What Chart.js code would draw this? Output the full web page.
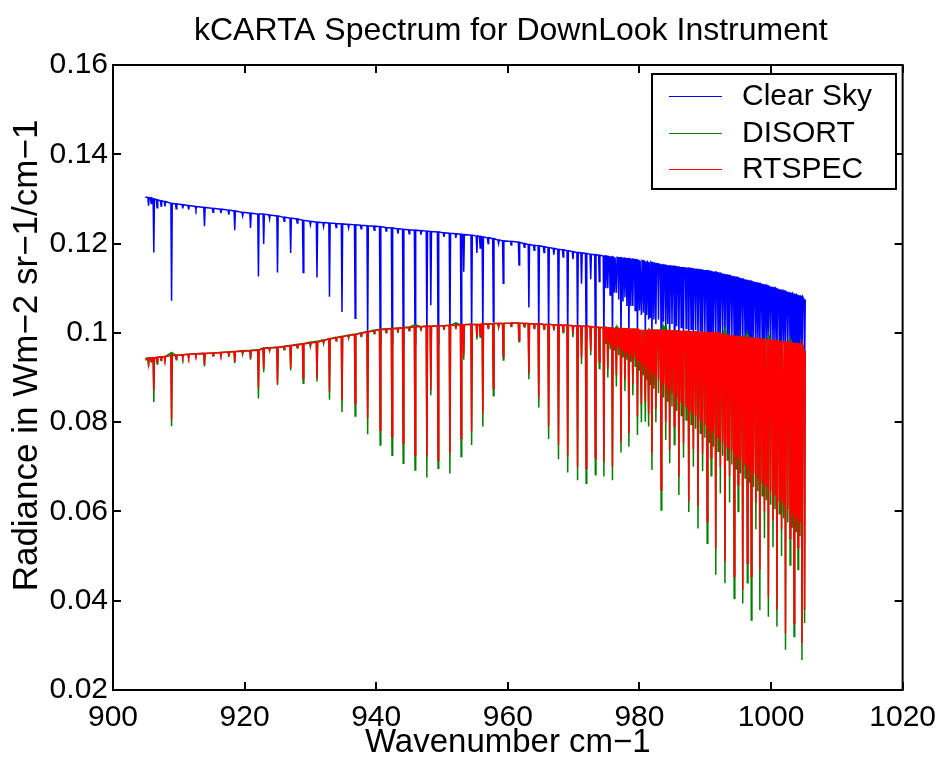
<!DOCTYPE html>
<html>
<head>
<meta charset="utf-8">
<script src="https://cdn.jsdelivr.net/npm/chart.js@4.4.0/dist/chart.umd.min.js"></script>
<style>
  html, body { margin: 0; padding: 0; background: #fff; }
  canvas { display: block; }
</style>
</head>
<body>
<canvas id="chart" width="946" height="763"></canvas>
<script>
// Absorption line centres (cm-1) left to right
const lineCentres = [
  905.0, 905.4, 905.8, 906.2, 906.7, 907.3, 907.9, 908.9, 909.6, 910.6,
  911.5, 912.6, 913.9, 915.2, 916.4, 917.6, 918.5, 919.7, 920.9, 922.1,
  922.9, 923.8, 925.0, 926.0, 927.0, 928.0, 928.9, 930.0, 931.0, 932.0,
  932.9, 933.9, 934.8, 935.8, 936.8, 937.7, 938.7, 939.7, 940.6, 941.5,
  942.4, 943.3, 944.1, 945.0, 945.9, 946.8, 947.7, 948.3, 949.4, 950.3,
  951.2, 952.1, 952.9, 953.3, 954.5, 955.3, 955.8, 956.2, 957.0, 957.8,
  958.6, 959.3, 960.5, 961.7, 962.5, 963.2, 964.0, 964.7, 965.5, 966.2,
  967.0, 967.7, 968.4, 969.1, 969.9, 970.6, 971.2, 971.9, 972.6, 973.3,
  973.9, 974.6, 974.9, 975.2, 975.55, 975.9, 976.2, 976.5, 976.85, 977.2,
  977.5, 977.8, 978.1, 978.4, 978.7, 979.0, 979.35, 979.7, 980.0, 980.3,
  980.6, 980.9, 981.15, 981.4, 981.65, 981.9, 982.2, 982.5, 982.9, 983.3,
  983.65, 984.0, 984.3, 984.6, 984.95, 985.3, 985.65, 986.0, 986.35, 986.7,
  987.1, 987.5, 987.85, 988.2, 988.55, 988.9, 989.25, 989.6, 989.95, 990.3,
  990.6, 990.9, 991.25, 991.6, 991.95, 992.3, 992.65, 993.0, 993.35, 993.7,
  994.05, 994.4, 994.7, 995.0, 995.35, 995.7, 996.05, 996.4, 996.7, 997.0,
  997.35, 997.7, 998.0, 998.3, 998.65, 999.0, 999.3, 999.6, 999.95, 1000.3,
  1000.6, 1000.9, 1001.25, 1001.6, 1001.9, 1002.2, 1002.55, 1002.9, 1003.2, 1003.5,
  1003.8, 1004.1, 1004.4, 1004.7, 1005.1
];

// Clear Sky: radiance beside each line and at its bottom
const clearTop = [
  0.1304, 0.1303, 0.1302, 0.1300, 0.1298, 0.1296, 0.1294, 0.1290, 0.1289, 0.1287,
  0.1285, 0.1283, 0.1281, 0.1279, 0.1277, 0.1275, 0.1273, 0.1270, 0.1268, 0.1266,
  0.1266, 0.1264, 0.1262, 0.1259, 0.1257, 0.1255, 0.1252, 0.1250, 0.1248, 0.1247,
  0.1246, 0.1245, 0.1244, 0.1243, 0.1242, 0.1241, 0.1240, 0.1239, 0.1238, 0.1236,
  0.1235, 0.1233, 0.1232, 0.1231, 0.1230, 0.1229, 0.1228, 0.1227, 0.1226, 0.1224,
  0.1223, 0.1222, 0.1221, 0.1220, 0.1219, 0.1217, 0.1216, 0.1215, 0.1213, 0.1211,
  0.1208, 0.1206, 0.1205, 0.1203, 0.1200, 0.1198, 0.1196, 0.1195, 0.1193, 0.1191,
  0.1189, 0.1187, 0.1186, 0.1184, 0.1182, 0.1180, 0.1179, 0.1178, 0.1176, 0.1175,
  0.1174, 0.1172, 0.1172, 0.1171, 0.1170, 0.1170, 0.1169, 0.1169, 0.1168, 0.1168,
  0.1167, 0.1167, 0.1166, 0.1166, 0.1165, 0.1165, 0.1164, 0.1163, 0.1162, 0.1162,
  0.1161, 0.1160, 0.1159, 0.1158, 0.1158, 0.1157, 0.1156, 0.1155, 0.1154, 0.1152,
  0.1152, 0.1151, 0.1150, 0.1150, 0.1149, 0.1149, 0.1148, 0.1147, 0.1146, 0.1146,
  0.1145, 0.1145, 0.1144, 0.1143, 0.1142, 0.1142, 0.1141, 0.1140, 0.1139, 0.1139,
  0.1138, 0.1137, 0.1136, 0.1136, 0.1134, 0.1133, 0.1131, 0.1130, 0.1129, 0.1128,
  0.1126, 0.1125, 0.1124, 0.1123, 0.1121, 0.1120, 0.1118, 0.1117, 0.1116, 0.1115,
  0.1113, 0.1112, 0.1111, 0.1110, 0.1108, 0.1107, 0.1106, 0.1104, 0.1102, 0.1101,
  0.1100, 0.1098, 0.1096, 0.1095, 0.1094, 0.1092, 0.1090, 0.1089, 0.1088, 0.1086,
  0.1085, 0.1083, 0.1082, 0.1081, 0.1075
];
const clearMin = [
  0.1304, 0.1285, 0.1290, 0.1180, 0.1280, 0.1284, 0.1283, 0.1072, 0.1278, 0.1279,
  0.1276, 0.1277, 0.1239, 0.1270, 0.1268, 0.1265, 0.1230, 0.1262, 0.1235, 0.1126,
  0.1199, 0.1255, 0.1135, 0.1250, 0.1179, 0.1246, 0.1135, 0.1242, 0.1124, 0.1238,
  0.1081, 0.1236, 0.1047, 0.1235, 0.1033, 0.1233, 0.0980, 0.1230, 0.0975, 0.1228,
  0.0975, 0.1222, 0.0975, 0.1222, 0.0975, 0.1220, 0.0975, 0.1062, 0.0975, 0.1215,
  0.0975, 0.1213, 0.0975, 0.1137, 0.0980, 0.1179, 0.1190, 0.0990, 0.1200, 0.1025,
  0.1200, 0.1111, 0.1197, 0.1152, 0.1192, 0.1057, 0.1185, 0.0990, 0.1180, 0.0985,
  0.1175, 0.0985, 0.1170, 0.0985, 0.1165, 0.0985, 0.1110, 0.0985, 0.1120, 0.0985,
  0.1115, 0.0985, 0.1100, 0.1100, 0.1085, 0.0985, 0.1090, 0.1090, 0.1075, 0.0985,
  0.1070, 0.1080, 0.1060, 0.0990, 0.1060, 0.1060, 0.1050, 0.0990, 0.1050, 0.1040,
  0.1045, 0.0995, 0.1040, 0.1030, 0.1035, 0.0990, 0.1030, 0.1020, 0.1030, 0.0980,
  0.1025, 0.1010, 0.1020, 0.0985, 0.1020, 0.1005, 0.1015, 0.0985, 0.1012, 0.1000,
  0.1010, 0.0980, 0.1008, 0.1000, 0.1006, 0.0980, 0.1004, 0.1000, 0.1002, 0.0975,
  0.1000, 0.0995, 0.0998, 0.0975, 0.0996, 0.0995, 0.0995, 0.0970, 0.0993, 0.0990,
  0.0992, 0.0965, 0.0990, 0.0985, 0.0990, 0.0960, 0.0988, 0.0980, 0.0987, 0.0955,
  0.0986, 0.0975, 0.0985, 0.0955, 0.0984, 0.0970, 0.0983, 0.0950, 0.0982, 0.0965,
  0.0980, 0.0945, 0.0978, 0.0960, 0.0977, 0.0940, 0.0976, 0.0955, 0.0975, 0.0935,
  0.0974, 0.0950, 0.0972, 0.0920, 0.0910
];

// DISORT
const disortTop = [
  0.0940, 0.0943, 0.0944, 0.0944, 0.0945, 0.0946, 0.0947, 0.0955, 0.0950, 0.0951,
  0.0952, 0.0953, 0.0954, 0.0955, 0.0956, 0.0957, 0.0958, 0.0960, 0.0961, 0.0962,
  0.0966, 0.0967, 0.0968, 0.0970, 0.0972, 0.0974, 0.0976, 0.0979, 0.0981, 0.0984,
  0.0987, 0.0990, 0.0992, 0.0995, 0.0997, 0.1000, 0.1003, 0.1006, 0.1008, 0.1009,
  0.1010, 0.1011, 0.1012, 0.1013, 0.1018, 0.1014, 0.1015, 0.1015, 0.1016, 0.1016,
  0.1017, 0.1022, 0.1018, 0.1018, 0.1019, 0.1019, 0.1019, 0.1020, 0.1020, 0.1021,
  0.1021, 0.1021, 0.1022, 0.1022, 0.1021, 0.1021, 0.1020, 0.1020, 0.1019, 0.1019,
  0.1018, 0.1018, 0.1017, 0.1017, 0.1016, 0.1016, 0.1015, 0.1015, 0.1014, 0.1013,
  0.1012, 0.1012, 0.1012, 0.1011, 0.1011, 0.1011, 0.1010, 0.1014, 0.1010, 0.1010,
  0.1009, 0.1009, 0.1009, 0.1009, 0.1008, 0.1008, 0.1008, 0.1008, 0.1007, 0.1007,
  0.1007, 0.1007, 0.1007, 0.1007, 0.1006, 0.1006, 0.1006, 0.1006, 0.1006, 0.1006,
  0.1014, 0.1012, 0.1005, 0.1005, 0.1004, 0.1004, 0.1004, 0.1004, 0.1003, 0.1003,
  0.1003, 0.1003, 0.1002, 0.1002, 0.1002, 0.1002, 0.1001, 0.1001, 0.1001, 0.1001,
  0.1000, 0.1000, 0.1000, 0.0999, 0.0999, 0.0998, 0.0997, 0.1005, 0.0994, 0.0993,
  0.0993, 0.0992, 0.0992, 0.0991, 0.0991, 0.0990, 0.0990, 0.0998, 0.0989, 0.0988,
  0.0988, 0.0987, 0.0987, 0.0986, 0.0986, 0.0985, 0.0985, 0.0993, 0.0984, 0.0983,
  0.0983, 0.0982, 0.0981, 0.0980, 0.0980, 0.0979, 0.0979, 0.0985, 0.0977, 0.0976,
  0.0976, 0.0975, 0.0974, 0.0973, 0.0960
];
const disortMin = [
  0.0940, 0.0925, 0.0935, 0.0845, 0.0930, 0.0938, 0.0936, 0.0791, 0.0940, 0.0944,
  0.0942, 0.0945, 0.0925, 0.0948, 0.0947, 0.0946, 0.0932, 0.0952, 0.0940, 0.0853,
  0.0912, 0.0960, 0.0883, 0.0962, 0.0916, 0.0966, 0.0887, 0.0970, 0.0891, 0.0976,
  0.0850, 0.0982, 0.0823, 0.0988, 0.0814, 0.0992, 0.0773, 0.0998, 0.0749, 0.1000,
  0.0726, 0.1000, 0.0708, 0.1005, 0.0693, 0.1004, 0.0676, 0.0860, 0.0697, 0.1006,
  0.0685, 0.1008, 0.0723, 0.0940, 0.0749, 0.0985, 0.0990, 0.0790, 0.1010, 0.0859,
  0.1012, 0.0939, 0.1014, 0.0980, 0.1013, 0.0896, 0.1010, 0.0833, 0.1008, 0.0762,
  0.1005, 0.0717, 0.1000, 0.0687, 0.0990, 0.0670, 0.0930, 0.0663, 0.0950, 0.0682,
  0.0920, 0.0678, 0.0975, 0.0900, 0.0965, 0.0670, 0.0960, 0.0880, 0.0950, 0.0732,
  0.0945, 0.0870, 0.0940, 0.0745, 0.0935, 0.0860, 0.0925, 0.0771, 0.0915, 0.0800,
  0.0905, 0.0801, 0.0895, 0.0790, 0.0885, 0.0693, 0.0875, 0.0800, 0.0865, 0.0603,
  0.0855, 0.0760, 0.0845, 0.0708, 0.0835, 0.0750, 0.0825, 0.0637, 0.0815, 0.0720,
  0.0805, 0.0599, 0.0795, 0.0700, 0.0785, 0.0562, 0.0775, 0.0690, 0.0765, 0.0529,
  0.0755, 0.0680, 0.0745, 0.0458, 0.0735, 0.0640, 0.0725, 0.0439, 0.0715, 0.0620,
  0.0705, 0.0405, 0.0695, 0.0600, 0.0685, 0.0394, 0.0675, 0.0440, 0.0665, 0.0357,
  0.0655, 0.0560, 0.0645, 0.0379, 0.0635, 0.0540, 0.0625, 0.0364, 0.0615, 0.0520,
  0.0605, 0.0342, 0.0595, 0.0500, 0.0585, 0.0290, 0.0575, 0.0480, 0.0565, 0.0320,
  0.0555, 0.0470, 0.0545, 0.0267, 0.0350
];

// RTSPEC
const rtspecTop = [
  0.0943, 0.0943, 0.0944, 0.0944, 0.0945, 0.0946, 0.0947, 0.0949, 0.0950, 0.0951,
  0.0952, 0.0953, 0.0954, 0.0955, 0.0956, 0.0957, 0.0958, 0.0959, 0.0960, 0.0961,
  0.0965, 0.0966, 0.0967, 0.0969, 0.0971, 0.0973, 0.0975, 0.0977, 0.0979, 0.0983,
  0.0986, 0.0989, 0.0991, 0.0994, 0.0996, 0.0999, 0.1002, 0.1005, 0.1007, 0.1008,
  0.1009, 0.1010, 0.1011, 0.1012, 0.1013, 0.1014, 0.1015, 0.1015, 0.1016, 0.1016,
  0.1017, 0.1017, 0.1018, 0.1018, 0.1019, 0.1019, 0.1019, 0.1020, 0.1020, 0.1021,
  0.1021, 0.1021, 0.1022, 0.1022, 0.1021, 0.1021, 0.1020, 0.1020, 0.1019, 0.1019,
  0.1018, 0.1018, 0.1017, 0.1017, 0.1016, 0.1016, 0.1015, 0.1015, 0.1014, 0.1013,
  0.1012, 0.1012, 0.1012, 0.1011, 0.1011, 0.1011, 0.1010, 0.1010, 0.1010, 0.1010,
  0.1009, 0.1009, 0.1009, 0.1009, 0.1008, 0.1008, 0.1008, 0.1008, 0.1007, 0.1007,
  0.1007, 0.1007, 0.1007, 0.1007, 0.1006, 0.1006, 0.1006, 0.1006, 0.1006, 0.1006,
  0.1005, 0.1005, 0.1005, 0.1005, 0.1004, 0.1004, 0.1004, 0.1004, 0.1003, 0.1003,
  0.1003, 0.1003, 0.1002, 0.1002, 0.1002, 0.1002, 0.1001, 0.1001, 0.1001, 0.1001,
  0.1000, 0.1000, 0.1000, 0.0999, 0.0999, 0.0998, 0.0997, 0.0995, 0.0994, 0.0993,
  0.0993, 0.0992, 0.0992, 0.0991, 0.0991, 0.0990, 0.0990, 0.0989, 0.0989, 0.0988,
  0.0988, 0.0987, 0.0987, 0.0986, 0.0986, 0.0985, 0.0985, 0.0984, 0.0984, 0.0983,
  0.0983, 0.0982, 0.0981, 0.0980, 0.0980, 0.0979, 0.0979, 0.0978, 0.0977, 0.0976,
  0.0976, 0.0975, 0.0974, 0.0973, 0.0960
];
const rtspecMin = [
  0.0943, 0.0930, 0.0938, 0.0872, 0.0935, 0.0940, 0.0940, 0.0806, 0.0943, 0.0946,
  0.0945, 0.0948, 0.0928, 0.0950, 0.0950, 0.0949, 0.0935, 0.0954, 0.0944, 0.0877,
  0.0919, 0.0961, 0.0887, 0.0964, 0.0921, 0.0968, 0.0898, 0.0971, 0.0898, 0.0978,
  0.0868, 0.0984, 0.0850, 0.0990, 0.0842, 0.0994, 0.0809, 0.1000, 0.0782, 0.1002,
  0.0767, 0.1002, 0.0753, 0.1006, 0.0726, 0.1006, 0.0723, 0.0872, 0.0715, 0.1008,
  0.0730, 0.1009, 0.0764, 0.0950, 0.0779, 0.0991, 0.0995, 0.0820, 0.1012, 0.0876,
  0.1014, 0.0947, 0.1016, 0.0984, 0.1015, 0.0909, 0.1012, 0.0853, 0.1010, 0.0790,
  0.1008, 0.0749, 0.1004, 0.0723, 0.0998, 0.0700, 0.0945, 0.0697, 0.0960, 0.0719,
  0.0935, 0.0711, 0.0985, 0.0920, 0.0975, 0.0700, 0.0970, 0.0905, 0.0965, 0.0756,
  0.0960, 0.0895, 0.0955, 0.0775, 0.0950, 0.0885, 0.0945, 0.0812, 0.0935, 0.0840,
  0.0930, 0.0846, 0.0920, 0.0820, 0.0915, 0.0730, 0.0905, 0.0830, 0.0895, 0.0648,
  0.0885, 0.0800, 0.0875, 0.0738, 0.0865, 0.0790, 0.0855, 0.0678, 0.0845, 0.0753,
  0.0835, 0.0622, 0.0825, 0.0740, 0.0815, 0.0611, 0.0805, 0.0730, 0.0795, 0.0577,
  0.0785, 0.0720, 0.0775, 0.0517, 0.0765, 0.0700, 0.0755, 0.0487, 0.0745, 0.0680,
  0.0735, 0.0454, 0.0725, 0.0660, 0.0715, 0.0424, 0.0705, 0.0484, 0.0695, 0.0454,
  0.0685, 0.0620, 0.0675, 0.0469, 0.0665, 0.0600, 0.0655, 0.0409, 0.0645, 0.0580,
  0.0635, 0.0379, 0.0625, 0.0560, 0.0615, 0.0327, 0.0605, 0.0540, 0.0595, 0.0349,
  0.0585, 0.0520, 0.0575, 0.0305, 0.0380
];

const xTicks = [900, 920, 940, 960, 980, 1000, 1020];
const yTicks = [0.02, 0.04, 0.06, 0.08, 0.1, 0.12, 0.14, 0.16];
const seriesNames = ['Clear Sky', 'DISORT', 'RTSPEC'];
const titleText = 'kCARTA Spectrum for DownLook Instrument';
const yLabelText = 'Radiance in Wm\u22122 sr\u22121/cm\u22121';

const FONT = "'Liberation Sans', Arial, Helvetica, sans-serif";
const HALF_WIDTH = 0.1;   // half width of a drawn line, cm-1
const TICK = 8;           // inward tick length, px
const colors = ['#0000ff', '#008000', '#ff0000'];

// each absorption line -> shoulder, bottom, shoulder
function spectrum(top, min) {
  const pts = [];
  lineCentres.forEach((c, i) => {
    pts.push({ x: c - HALF_WIDTH, y: top[i] });
    pts.push({ x: c, y: min[i] });
    pts.push({ x: c + HALF_WIDTH, y: top[i] });
  });
  return pts;
}

// Title, y label, box with inward ticks on all four sides
const framePlugin = {
  id: 'frame',
  afterDatasetsDraw(chart) {
    const { ctx, chartArea: a, scales: { x, y } } = chart;
    ctx.save();
    ctx.strokeStyle = '#000';
    ctx.lineWidth = 2;
    ctx.strokeRect(a.left, a.top, a.right - a.left, a.bottom - a.top);
    ctx.beginPath();
    xTicks.forEach(v => {
      const px = Math.round(x.getPixelForValue(v));
      ctx.moveTo(px, a.bottom); ctx.lineTo(px, a.bottom - TICK);
      ctx.moveTo(px, a.top); ctx.lineTo(px, a.top + TICK);
    });
    yTicks.forEach(v => {
      const py = Math.round(y.getPixelForValue(v));
      ctx.moveTo(a.left, py); ctx.lineTo(a.left + TICK, py);
      ctx.moveTo(a.right, py); ctx.lineTo(a.right - TICK, py);
    });
    ctx.stroke();

    ctx.fillStyle = '#000';
    ctx.font = '32px ' + FONT;
    ctx.textAlign = 'center';
    ctx.textBaseline = 'alphabetic';
    ctx.fillText(titleText, (a.left + a.right) / 2 + 3, 40);

    ctx.font = '35px ' + FONT;
    ctx.textBaseline = 'middle';
    ctx.translate(27, (a.top + a.bottom) / 2 - 22);
    ctx.rotate(-Math.PI / 2);
    ctx.fillText(yLabelText, 0, 0);
    ctx.restore();
  }
};

// MATLAB-style legend box in the top right corner
const legendPlugin = {
  id: 'boxLegend',
  afterDraw(chart) {
    const { ctx } = chart;
    const box = { left: 652, top: 74, right: 896, bottom: 189 };
    ctx.save();
    ctx.fillStyle = '#fff';
    ctx.fillRect(box.left, box.top, box.right - box.left, box.bottom - box.top);
    ctx.strokeStyle = '#000';
    ctx.lineWidth = 2;
    ctx.strokeRect(box.left, box.top, box.right - box.left, box.bottom - box.top);
    ctx.font = '30px ' + FONT;
    ctx.textBaseline = 'middle';
    seriesNames.forEach((name, i) => {
      const rowY = Math.round(96 + i * 36.5);
      ctx.fillStyle = colors[i];
      ctx.fillRect(669, rowY, 53, 1);
      ctx.fillStyle = '#000';
      ctx.fillText(name, 742, rowY + 1);
    });
    ctx.restore();
  }
};

const datasets = [
  spectrum(clearTop, clearMin),
  spectrum(disortTop, disortMin),
  spectrum(rtspecTop, rtspecMin)
].map((data, i) => ({
  label: seriesNames[i],
  data,
  borderColor: colors[i],
  backgroundColor: colors[i],
  borderWidth: 1.5,
  pointRadius: 0,
  tension: 0,
  fill: false,
  order: 3 - i   // RTSPEC on top, Clear Sky underneath
}));

new Chart(document.getElementById('chart'), {
  type: 'line',
  data: { datasets },
  options: {
    responsive: false,
    animation: false,
    parsing: false,
    layout: { padding: { left: 0, right: 41, top: 65, bottom: 0 } },
    plugins: {
      legend: { display: false },
      tooltip: { enabled: false },
      title: { display: false }
    },
    scales: {
      x: {
        type: 'linear',
        min: 900,
        max: 1020,
        afterBuildTicks: s => { s.ticks = xTicks.map(v => ({ value: v })); },
        afterFit: s => { s.height = 73; },
        grid: { display: false, drawTicks: false },
        border: { display: false },
        ticks: {
          color: '#000',
          font: { family: FONT, size: 30 },
          padding: 10,
          maxRotation: 0,
          callback: v => String(v)
        },
        title: {
          display: true,
          text: 'Wavenumber cm\u22121',
          color: '#000',
          font: { family: FONT, size: 33 },
          padding: { top: 0, bottom: 0 }
        }
      },
      y: {
        type: 'linear',
        min: 0.02,
        max: 0.16,
        afterBuildTicks: s => { s.ticks = yTicks.map(v => ({ value: v })); },
        afterFit: s => { s.width = 113; },
        grid: { display: false, drawTicks: false },
        border: { display: false },
        ticks: {
          color: '#000',
          font: { family: FONT, size: 30 },
          padding: 5,
          callback: v => String(+v.toFixed(2))
        }
      }
    }
  },
  plugins: [framePlugin, legendPlugin]
});
</script>
</body>
</html>
